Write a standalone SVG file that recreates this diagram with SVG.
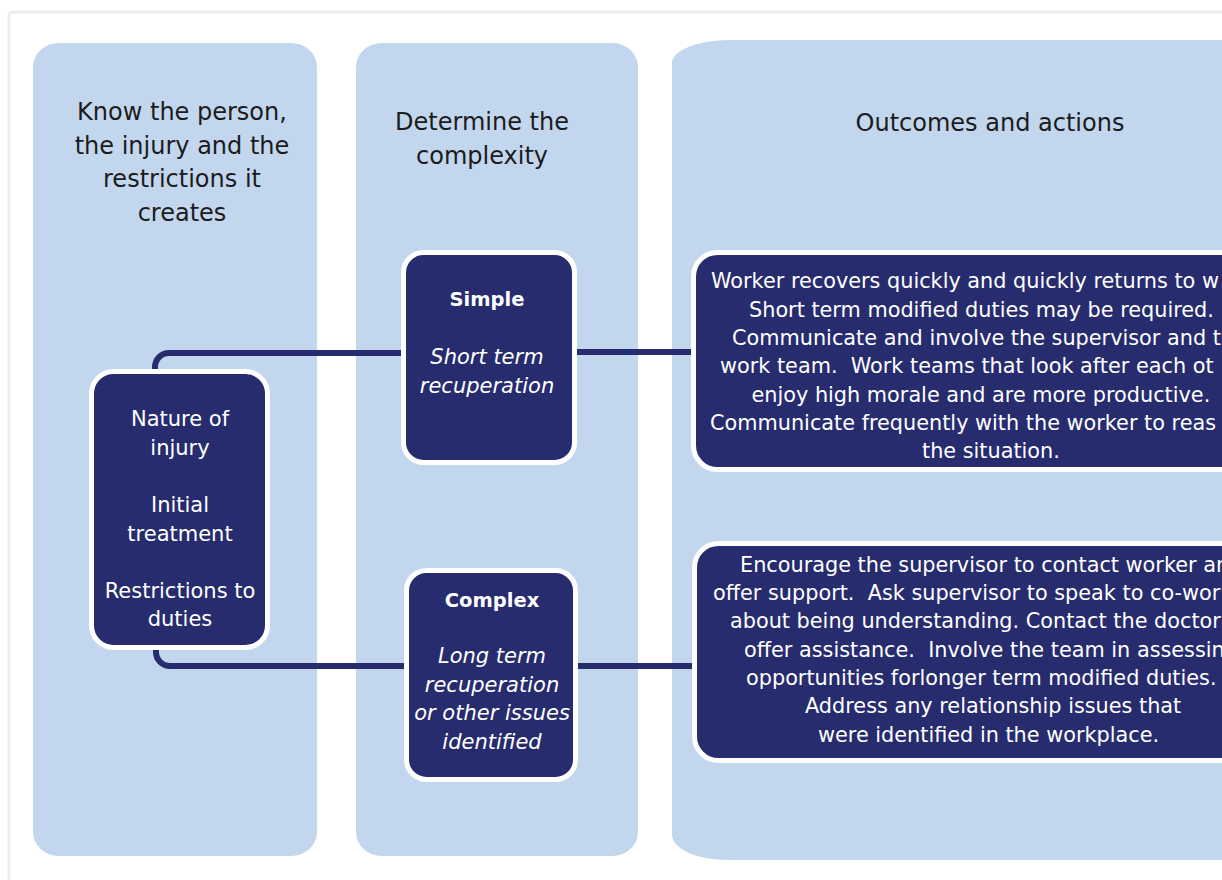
<svg xmlns="http://www.w3.org/2000/svg" width="1222" height="880" viewBox="0 0 1222 880">
  <style>
    .lane { fill: #c2d7ee; }
    .head { font-family: "DejaVu Sans", Verdana, sans-serif; font-size: 24px; fill: #1c1c1c; text-anchor: middle; }
    .box { fill: #272c6f; stroke: #ffffff; stroke-width: 5; }
    .lbl { font-family: "DejaVu Sans", Verdana, sans-serif; font-size: 21px; fill: #ffffff; text-anchor: middle; }
    .ttl { font-weight: bold; font-size: 19.5px; }
    .it { font-style: italic; }
    .out { font-family: "DejaVu Sans", Verdana, sans-serif; font-size: 20.8px; fill: #ffffff; white-space: pre; }
    .link { fill: none; stroke: #272c6f; stroke-width: 6; }
  </style>

  <!-- page frame -->
  <rect x="0" y="0" width="1222" height="880" fill="#ffffff"/>
  <rect x="9" y="12" width="1300" height="1000" rx="4" fill="#ffffff" stroke="#eeeeee" stroke-width="3"/>

  <!-- column backgrounds -->
  <g id="lane-know">
    <rect class="lane" x="33" y="43" width="284" height="813" rx="26" ry="24"/>
    <text class="head" x="182" y="120">Know the person,</text>
    <text class="head" x="182" y="153.5">the injury and the</text>
    <text class="head" x="182" y="187">restrictions it</text>
    <text class="head" x="182" y="220.5">creates</text>
  </g>
  <g id="lane-complexity">
    <rect class="lane" x="356" y="43" width="282" height="813" rx="26" ry="24"/>
    <text class="head" x="482" y="130">Determine the</text>
    <text class="head" x="482" y="163.5">complexity</text>
  </g>
  <g id="lane-outcomes">
    <path class="lane" d="M672 63 A58 23 0 0 1 730 40 H1240 V860 H727 A55 25 0 0 1 672 835 Z"/>
    <text class="head" x="990" y="131">Outcomes and actions</text>
  </g>

  <!-- connectors -->
  <g id="connectors">
    <path class="link" d="M155 372 V367 A14 14 0 0 1 169 353 H403"/>
    <path class="link" d="M574 352 H693"/>
    <path class="link" d="M156 648 V652 A14 14 0 0 0 170 666 H406"/>
    <path class="link" d="M575 666 H695"/>
  </g>

  <!-- injury details -->
  <g id="node-injury">
    <rect class="box" x="91.5" y="371.5" width="176" height="276" rx="22"/>
    <text class="lbl" x="180" y="426">Nature of</text>
    <text class="lbl" x="180" y="454.5">injury</text>
    <text class="lbl" x="180" y="512">Initial</text>
    <text class="lbl" x="180" y="540.5">treatment</text>
    <text class="lbl" x="180" y="597.5">Restrictions to</text>
    <text class="lbl" x="180" y="626">duties</text>
  </g>

  <!-- simple case -->
  <g id="node-simple">
    <rect class="box" x="403.5" y="252.5" width="171" height="210" rx="20"/>
    <text class="lbl ttl" x="487" y="305.5">Simple</text>
    <text class="lbl it" x="487" y="364">Short term</text>
    <text class="lbl it" x="487" y="392.5">recuperation</text>
  </g>

  <!-- complex case -->
  <g id="node-complex">
    <rect class="box" x="406.5" y="570.5" width="169" height="209" rx="20"/>
    <text class="lbl ttl" x="492" y="606.5">Complex</text>
    <text class="lbl it" x="492" y="663">Long term</text>
    <text class="lbl it" x="492" y="691.5">recuperation</text>
    <text class="lbl it" x="492" y="720">or other issues</text>
    <text class="lbl it" x="492" y="748.5">identified</text>
  </g>

  <!-- outcome for simple case -->
  <g id="node-outcome-simple" xml:space="preserve">
    <rect class="box" x="693.5" y="252.5" width="620" height="217" rx="24"/>
    <text class="out" x="711" y="288.3">Worker recovers quickly and quickly returns to w</text>
    <text class="out" x="749" y="316.7">Short term modified duties may be required.</text>
    <text class="out" x="732" y="345">Communicate and involve the supervisor and th</text>
    <text class="out" x="720" y="373.3">work team.  Work teams that look after each ot</text>
    <text class="out" x="751.5" y="401.7">enjoy high morale and are more productive.</text>
    <text class="out" x="710" y="430">Communicate frequently with the worker to reas</text>
    <text class="out" x="922" y="458.3">the situation.</text>
  </g>

  <!-- outcome for complex case -->
  <g id="node-outcome-complex" xml:space="preserve">
    <rect class="box" x="694.5" y="543.5" width="620" height="217" rx="24"/>
    <text class="out" x="740" y="571.5">Encourage the supervisor to contact worker ar</text>
    <text class="out" x="713" y="600">offer support.  Ask supervisor to speak to co-wor</text>
    <text class="out" x="730" y="628.3">about being understanding. Contact the doctor</text>
    <text class="out" x="744" y="656.7">offer assistance.  Involve the team in assessin</text>
    <text class="out" x="746" y="685">opportunities forlonger term modified duties.</text>
    <text class="out" x="805" y="713.3">Address any relationship issues that</text>
    <text class="out" x="818" y="741.7">were identified in the workplace.</text>
  </g>
</svg>
